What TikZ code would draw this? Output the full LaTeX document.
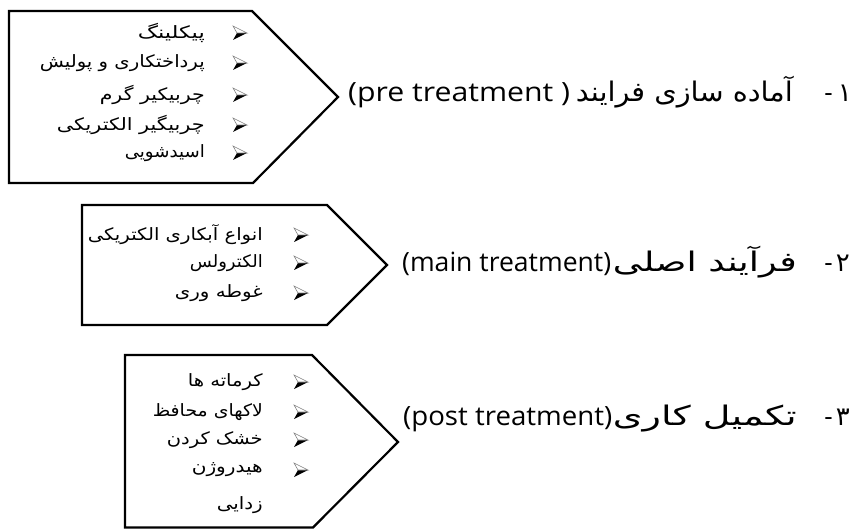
\documentclass[tikz,border=0pt]{standalone}
\usepackage{fontspec}
\TeXXeTstate=1
\newfontfamily\arfont[Script=Arabic]{DejaVu Sans}
\newfontfamily\latfont{Open Sans}
\newcommand{\pfit}[2]{\resizebox{#1pt}{\height}{#2}}
\begin{document}
\begin{tikzpicture}[x=1pt,y=1pt,
  boxst/.style={draw=black, line width=2.2pt, line join=miter},
  item/.style={inner sep=0pt, anchor=east, font=\arfont\fontsize{17}{20}\selectfont},
  headl/.style={inner sep=0pt, anchor=base west, font=\latfont\fontsize{26.5}{30}\selectfont},
  headp/.style={inner sep=0pt, anchor=base east, font=\arfont\fontsize{27}{30}\selectfont},
  headn/.style={inner sep=0pt, anchor=base east, font=\latfont\fontsize{26}{30}\selectfont},
  bul/.pic={
    \fill[black] (7,0) -- (-3,0) -- (-7,-7) -- cycle;
    \filldraw[fill=white, draw=gray, line width=0.6pt] (7,0) -- (-7,7) -- (-3,0) -- cycle;
  }]
\useasboundingbox (0,0) rectangle (851,-529);
% boxes
\draw[boxst] (9,-11) -- (252,-11) -- (338,-97) -- (253,-183) -- (9,-183) -- cycle;
\draw[boxst] (82,-205) -- (327,-205) -- (387,-265) -- (327,-325) -- (82,-325) -- cycle;
\draw[boxst] (125,-355) -- (312,-355) -- (398,-442) -- (313,-527.5) -- (125,-527.5) -- cycle;
% box 1 items
\foreach \y in {33,63,95,125,153} { \pic at (240,-\y) {bul}; }
\node[item] (a1) at (205,-33) {\pfit{67}{\beginR پیکلینگ\endR}};
\node[item] (a2) at (205,-63) {\pfit{165}{\beginR پرداختکاری و پولیش\endR}};
\node[item] (a3) at (205,-95) {\pfit{105}{\beginR چربیکیر گرم\endR}};
\node[item] (a4) at (205,-125) {\pfit{148}{\beginR چربیگیر الکتریکی\endR}};
\node[item] (a5) at (205,-153) {\pfit{80}{\beginR اسیدشویی\endR}};
% box 2 items
\foreach \y in {235,263,293} { \pic at (301,-\y) {bul}; }
\node[item] (b1) at (263,-235) {\pfit{175}{\beginR انواع آبکاری الکتریکی\endR}};
\node[item] (b2) at (263,-263) {\pfit{73}{\beginR الکترولس\endR}};
\node[item] (b3) at (263,-293) {\pfit{88}{\beginR غوطه وری\endR}};
% box 3 items
\foreach \y in {382,412,440,470} { \pic at (301,-\y) {bul}; }
\node[item] (c1) at (263,-382) {\pfit{75}{\beginR کرماته ها\endR}};
\node[item] (c2) at (263,-412) {\pfit{110}{\beginR لاکهای محافظ\endR}};
\node[item] (c3) at (263,-440) {\pfit{96}{\beginR خشک کردن\endR}};
\node[item] (c4) at (263,-470) {\pfit{71}{\beginR هیدروژن\endR}};
\node[item] (c5) at (263,-505) {\pfit{46}{\beginR زدایی\endR}};
% headings
\node[headl] (h1l) at (348,-102) {\pfit{222}{(pre treatment )}};
\node[headp] (h1p) at (793,-102) {\pfit{217}{\beginR آماده سازی فرایند\endR}};
\node[headn] (h1n) at (852,-102) {-\hspace{5pt}{\arfont ۱}};
\node[headl] (h2l) at (402,-272) {\pfit{209}{(main treatment)}};
\node[headp] (h2p) at (797,-272) {\pfit{184}{\beginR فرآیند اصلی\endR}};
\node[headn] (h2n) at (850,-272) {-\hspace{3pt}{\arfont ۲}};
\node[headl] (h3l) at (403,-425) {\pfit{209}{(post treatment)}};
\node[headp] (h3p) at (797,-425) {\pfit{184}{\beginR تکمیل کاری\endR}};
\node[headn] (h3n) at (850,-425) {-\hspace{3pt}{\arfont ۳}};
\end{tikzpicture}
\end{document}
